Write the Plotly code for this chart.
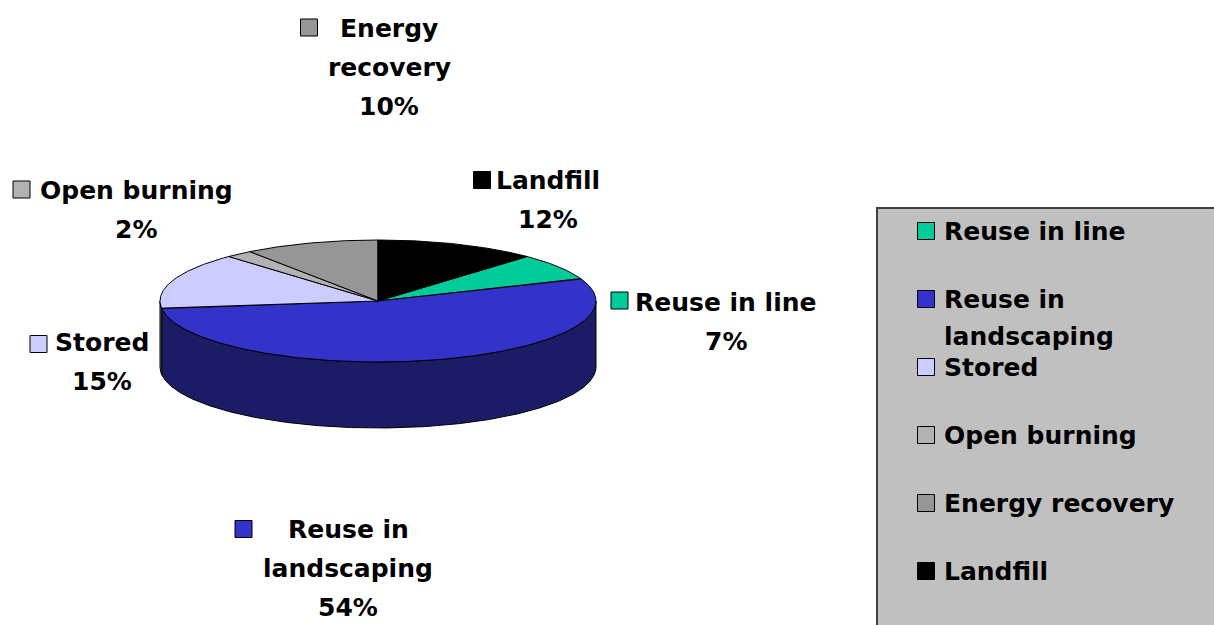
import numpy as np
import plotly.graph_objects as go

# ---- data -----------------------------------------------------------------
categories = ["Reuse in line", "Reuse in landscaping", "Stored",
              "Open burning", "Energy recovery", "Landfill"]
shares = [7, 54, 15, 2, 10, 12]                      # percent of total
percent_labels = ["7%", "54%", "15%", "2%", "10%", "12%"]
# category names as they wrap inside the slice labels
label_name_lines = [["Reuse in line"], ["Reuse in", "landscaping"], ["Stored"],
                    ["Open burning"], ["Energy", "recovery"], ["Landfill"]]
# category names as they wrap inside the legend box
legend_name_lines = [["Reuse in line"], ["Reuse in", "landscaping"], ["Stored"],
                     ["Open burning"], ["Energy recovery"], ["Landfill"]]

# ---- styling --------------------------------------------------------------
top_colors = ["#00CC99", "#3333CC", "#CCCCFF", "#B2B2B2", "#969696", "#000000"]
side_colors = ["#00664C", "#1C1C66", "#666680", "#595959", "#4B4B4B", "#000000"]

W, H = 1214, 625
FONT = dict(family="DejaVu Sans", size=25, color="#000000", weight="bold")

# 3-D pie geometry (pixel space)
CX, CY, RX, RY, DEPTH = 378, 301, 218, 61, 66
FIRST_ANGLE = 43.2          # first slice starts this many degrees clockwise from 12 o'clock

# slice label placement: (text centre x, first line y, key centre x, key centre y)
label_pos = [(726, 302, 619.5, 300.5),
             (348, 529, 243.5, 529),
             (102, 342, 38.5, 344),
             (136, 190, 21.5, 189.5),
             (389, 28, 309, 27.5),
             (548, 180, 482, 180)]
LINE_STEP = 39

# legend box placement
LEG_X0, LEG_Y0 = 877, 208
LEG_KEY_X, LEG_TEXT_X = 926, 942
LEG_ROW0, LEG_ROW_STEP, LEG_LINE_STEP = 231, 68, 37


def project(theta_deg, dy=0.0):
    t = np.radians(theta_deg)
    return CX + RX * np.sin(t), CY - RY * np.cos(t) + dy


fig = go.Figure()

# slice angle ranges (clockwise, degrees from 12 o'clock)
bounds = []
acc = FIRST_ANGLE
for s in shares:
    a0 = acc
    a1 = acc + 360.0 * s / sum(shares)
    bounds.append((a0, a1))
    acc = a1

# front side walls: the visible part of the rim runs from 90 deg to 270 deg
for (a0, a1), col in zip(bounds, side_colors):
    for k in (-360, 0, 360):
        lo, hi = max(a0, 90 + k), min(a1, 270 + k)
        if hi <= lo:
            continue
        th = np.linspace(lo, hi, max(8, int((hi - lo) * 2)))
        xt, yt = project(th)
        xb, yb = project(th[::-1], DEPTH)
        xs = np.concatenate([xt, xb, xt[:1]])
        ys = np.concatenate([yt, yb, yt[:1]])
        fig.add_trace(go.Scatter(x=xs, y=ys, mode="lines", fill="toself",
                                 fillcolor=col, line=dict(color="#000000", width=1),
                                 hoverinfo="skip", showlegend=False))

# top faces of the slices
for (a0, a1), col, name, s in zip(bounds, top_colors, categories, shares):
    th = np.linspace(a0, a1, max(6, int((a1 - a0) * 2)))
    xa, ya = project(th)
    xs = np.concatenate([[CX], xa, [CX]])
    ys = np.concatenate([[CY], ya, [CY]])
    fig.add_trace(go.Scatter(x=xs, y=ys, mode="lines", fill="toself",
                             fillcolor=col, line=dict(color="#000000", width=1),
                             name=name, hovertemplate=f"{name}: {s}%<extra></extra>",
                             showlegend=False))

# legend box
fig.add_shape(type="rect", xref="x", yref="y", x0=LEG_X0, y0=LEG_Y0, x1=W + 10, y1=H + 10,
              fillcolor="#C0C0C0", line=dict(color="#404040", width=2), layer="below")

annotations = []

# slice labels with their colour keys
key_x, key_y, key_c = [], [], []
for i, (tx, ty, kx, ky) in enumerate(label_pos):
    lines = label_name_lines[i] + [percent_labels[i]]
    for j, txt in enumerate(lines):
        annotations.append(dict(x=tx, y=ty + j * LINE_STEP, text=txt, showarrow=False,
                                xref="x", yref="y", xanchor="center", yanchor="middle",
                                font=FONT))
    key_x.append(kx)
    key_y.append(ky)
    key_c.append(top_colors[i])

# legend rows
for i, lines in enumerate(legend_name_lines):
    row_y = LEG_ROW0 + i * LEG_ROW_STEP
    for j, txt in enumerate(lines):
        annotations.append(dict(x=LEG_TEXT_X, y=row_y + j * LEG_LINE_STEP, text=txt,
                                showarrow=False, xref="x", yref="y", xanchor="left",
                                yanchor="middle", font=FONT))
    key_x.append(LEG_KEY_X)
    key_y.append(row_y)
    key_c.append(top_colors[i])

fig.add_trace(go.Scatter(x=key_x, y=key_y, mode="markers", hoverinfo="skip",
                         marker=dict(symbol="square", size=17, color=key_c,
                                     line=dict(color="#000000", width=1)),
                         showlegend=False))

fig.update_layout(
    width=W, height=H,
    margin=dict(l=0, r=0, t=0, b=0),
    paper_bgcolor="#FFFFFF", plot_bgcolor="#FFFFFF",
    xaxis=dict(range=[0, W], visible=False, fixedrange=True),
    yaxis=dict(range=[H, 0], visible=False, fixedrange=True),
    annotations=annotations,
    showlegend=False,
)

fig.write_html("out.html", config={"displayModeBar": False})
